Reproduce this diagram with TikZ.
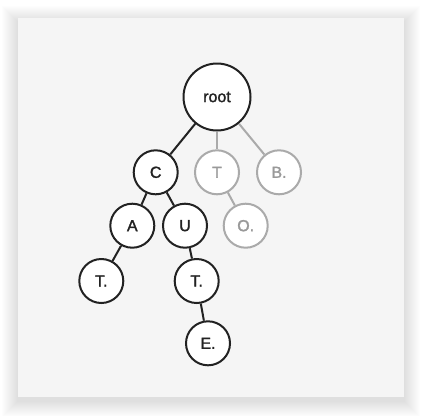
\documentclass[tikz,border=0pt]{standalone}
\usepackage{fontspec}
\setmainfont{Liberation Sans}
\newfontfamily\labelfont{Liberation Sans}[FakeBold=1.6]
\definecolor{cardbg}{HTML}{F5F5F5}
\definecolor{dark}{HTML}{222222}
\definecolor{lightline}{HTML}{AAAAAA}
\definecolor{lighttext}{HTML}{999999}
\begin{document}
\begin{tikzpicture}[x=1pt,y=-1pt,
  trie/.style={circle,draw=dark,line width=2pt,fill=white,inner sep=0pt,
    minimum size=44pt,font=\labelfont\fontsize{16}{18}\selectfont,text=dark},
  ghost/.style={trie,draw=lightline,text=lighttext},
  edge/.style={draw=dark,line width=2pt},
  gedge/.style={draw=lightline,line width=2pt}]
\useasboundingbox (0,0) rectangle (422,415);
\fill[white] (0,0) rectangle (422,415);
\foreach \i in {1,...,16}{
  \fill[black,opacity=0.006] (18-\i,18-\i+4) rectangle (404+\i,397+\i+4);
}
\fill[cardbg] (18,18) rectangle (404,397);
\node[trie,minimum size=67pt] (root) at (217,97) {root};
\node[trie] (C) at (155.7,172.3) {C};
\node[ghost] (T) at (217,172.3) {T};
\node[ghost] (B) at (279,172.3) {B.};
\node[trie] (A) at (132.3,225.7) {A};
\node[trie] (U) at (185,225.7) {U};
\node[ghost] (O) at (245.7,225.7) {O.};
\node[trie] (T1) at (101.3,281) {T.};
\node[trie] (T2) at (196.7,281) {T.};
\node[trie] (E) at (208,343.3) {E.};
\draw[edge] (root) -- (C);
\draw[gedge] (root) -- (T);
\draw[gedge] (root) -- (B);
\draw[gedge] (T) -- (O);
\draw[edge] (C) -- (A);
\draw[edge] (C) -- (U);
\draw[edge] (A) -- (T1);
\draw[edge] (U) -- (T2);
\draw[edge] (T2) -- (E);
\end{tikzpicture}
\end{document}
